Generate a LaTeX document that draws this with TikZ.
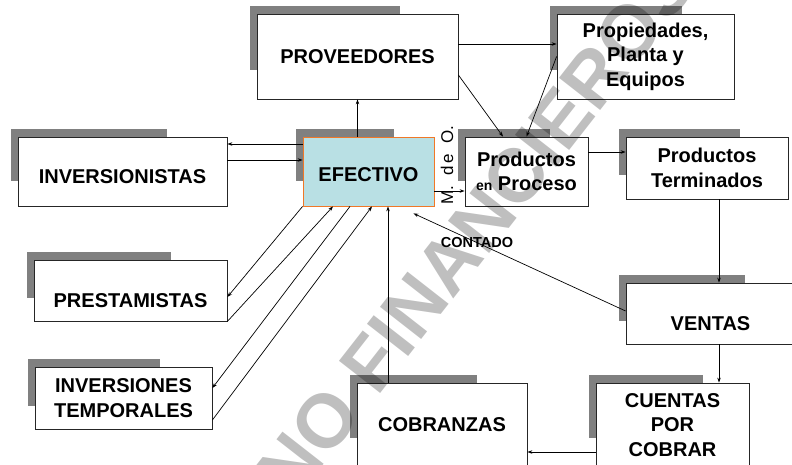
\documentclass[tikz,border=0pt]{standalone}
\usepackage{fontspec}
\setmainfont{Liberation Sans}
\usetikzlibrary{calc,arrows.meta}

\definecolor{celeste}{RGB}{185,224,228}
\definecolor{naranja}{RGB}{240,120,40}
\definecolor{sombra}{RGB}{128,128,128}

% caja con sombra: [opciones]{nombre}{x}{y}{ancho}{alto}{texto}
\newcommand{\caja}[7][]{%
  \fill[sombra] (#3-7.5,#4-8) rectangle ++(0.75*#5,0.75*#6);
  \node[caja,minimum width=#5,minimum height=#6,#1] (#2) at (#3+#5/2,#4+#6/2) {#7};
}

\begin{document}
\begin{tikzpicture}[x=1pt,y=-1pt,
  caja/.style={draw=black!85,fill=white,line width=0.8pt,inner sep=0pt,align=center,
    font=\fontsize{20}{24.5}\selectfont\bfseries},
  bajo/.style={text height=#1,text depth=0pt},
  flecha/.style={-{Stealth[length=5pt,width=3.5pt]},line width=0.7pt},
  marca/.style={rotate=52,text=black,opacity=.25,font=\fontsize{76}{76}\selectfont\bfseries}]

\useasboundingbox (0,0) rectangle (792,465);

\caja{prov}{257}{14}{201}{85}{PROVEEDORES}
\caja{prop}{557}{14}{177}{85}{Propiedades,\\Planta y\\Equipos}
\caja[bajo=24.3pt]{inv}{18}{137}{209}{69}{INVERSIONISTAS}
\caja[fill=celeste,draw=naranja,bajo=20.3pt]{efec}{303}{137}{131}{69}{EFECTIVO}
\caja{proc}{465}{137}{123}{69}{Productos\\{\fontsize{14}{14}\selectfont en} Proceso}
\caja{term}{626}{137}{162}{62}{Productos\\Terminados}
\caja[bajo=34.3pt]{prest}{34}{260}{193}{61}{PRESTAMISTAS}
\caja{temp}{35}{367}{177}{62}{INVERSIONES\\TEMPORALES}
\caja[bajo=34.3pt]{ventas}{626}{283}{169}{61}{VENTAS}
\caja{cobr}{357}{383}{170}{84}{COBRANZAS}
\caja{ctas}{596}{383}{153}{84}{CUENTAS\\POR\\COBRAR}

\node[rotate=90,font=\fontsize{17}{17}\selectfont] (mo) at (447,165)
  {M.\hspace{10pt}d\hspace{3pt}e\hspace{10pt}O.};

% flujos
\draw[flecha] (efec.north -| prov.south) -- (prov.south);
\draw[flecha] ([yshift=12.5pt]prov.east) -- ([yshift=12.5pt]prop.west);
\draw[flecha] ([yshift=-18.5pt]prov.east) -- ([xshift=-23.5pt]proc.north);
\draw[flecha] (prop.west) -- (proc.north);
\draw[flecha] ([yshift=19.5pt]proc.east) -- ([yshift=19.5pt]proc.east -| term.west);
\draw[flecha] ([yshift=-19.5pt]efec.east) -- ([yshift=-19.5pt]proc.west);
\draw[flecha] ([yshift=27.5pt]efec.west) -- ([yshift=27.5pt]inv.east);
\draw[flecha] ([yshift=11.5pt]inv.east) -- ([yshift=11.5pt]efec.west);
\draw[flecha] ([yshift=2.5pt]ventas.west) -- ([xshift=-21pt,yshift=-7pt]efec.south east)
  node[pos=.7,font=\fontsize{14.5}{14.5}\selectfont\bfseries] (cont) {CONTADO};
\draw[flecha] ([xshift=12pt]term.south) -- ([xshift=12pt]term.south |- ventas.north);
\draw[flecha] ([xshift=12pt]term.south |- ventas.south) -- ([xshift=12pt]term.south |- ctas.north);
\draw[flecha] ([yshift=-27pt]ctas.west) -- ([yshift=-27pt]cobr.east);
\draw[flecha] ([xshift=-54pt]cobr.north) -- ([xshift=-54pt]cobr.north |- efec.south);
\draw[flecha] (efec.south west) -- ([yshift=-6.5pt]prest.east);
\draw[flecha] (prest.south east) -- ([xshift=-35.5pt]efec.south);
\draw[flecha] ([xshift=-18.5pt]efec.south) -- ([yshift=10pt]temp.east);
\draw[flecha] ([yshift=-22pt]temp.east) -- ([xshift=3.5pt]efec.south);

\node[marca] (marca) at (476,228) {NO FINANCIEROS};

\end{tikzpicture}
\end{document}
